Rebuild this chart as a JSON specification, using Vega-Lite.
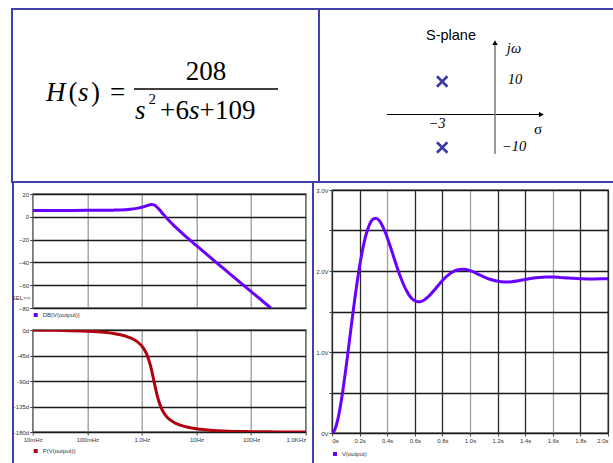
{
  "$schema": "https://vega.github.io/schema/vega-lite/v6.json",
  "padding": {"left": 10, "top": 8, "right": 0, "bottom": 0},
  "background": "white",
  "spacing": 0,
  "resolve": {"scale": {"color": "independent"}, "legend": {"color": "independent"}},
  "config": {
    "view": {"stroke": null},
    "font": "Liberation Sans",
    "axis": {"labelFont": "Liberation Sans", "labelFontSize": 6, "labelColor": "#333", "tickColor": "#444", "tickSize": 3, "domain": false, "labelPadding": 1, "titleFont": "Liberation Sans"},
    "legend": {"orient": "bottom", "labelFontSize": 6, "labelColor": "#333", "labelFont": "Liberation Sans", "symbolType": "square", "symbolSize": 4, "symbolStrokeWidth": 2, "offset": 4, "padding": 0}
  },
  "vconcat": [
    {
      "hconcat": [
        {
          "width": 307,
          "height": 173,
          "view": {"stroke": "#4040aa", "strokeWidth": 2},
          "encoding": {
            "x": {"field": "col", "type": "nominal", "scale": {"type": "point", "domain": ["lhs", "rhs"], "padding": 0.79, "align": 0.399}, "axis": null},
            "y": {"field": "row", "type": "nominal", "scale": {"type": "point", "domain": ["num", "bar", "den"], "padding": 1, "align": 0.425}, "axis": null}
          },
          "layer": [
            {"data": {"values": [{"col": "lhs", "row": "bar", "t": "H"}]}, "mark": {"type": "text", "font": "Liberation Serif", "fontSize": 27, "fontStyle": "italic", "align": "left", "baseline": "alphabetic", "dx": -41, "dy": 12}, "encoding": {"text": {"field": "t"}}},
            {"data": {"values": [{"col": "lhs", "row": "bar", "t": "("}]}, "mark": {"type": "text", "font": "Liberation Serif", "fontSize": 27, "align": "left", "baseline": "alphabetic", "dx": -18.5, "dy": 12}, "encoding": {"text": {"field": "t"}}},
            {"data": {"values": [{"col": "lhs", "row": "bar", "t": "s"}]}, "mark": {"type": "text", "font": "Liberation Serif", "fontSize": 27, "fontStyle": "italic", "align": "left", "baseline": "alphabetic", "dx": -9, "dy": 12}, "encoding": {"text": {"field": "t"}}},
            {"data": {"values": [{"col": "lhs", "row": "bar", "t": ")"}]}, "mark": {"type": "text", "font": "Liberation Serif", "fontSize": 27, "align": "left", "baseline": "alphabetic", "dx": 4, "dy": 12}, "encoding": {"text": {"field": "t"}}},
            {"data": {"values": [{"col": "lhs", "row": "bar", "t": "="}]}, "mark": {"type": "text", "font": "Liberation Serif", "fontSize": 27, "align": "left", "baseline": "alphabetic", "dx": 23, "dy": 12}, "encoding": {"text": {"field": "t"}}},
            {"data": {"values": [{"col": "rhs", "row": "num", "t": "208"}]}, "mark": {"type": "text", "font": "Liberation Serif", "fontSize": 27, "align": "center", "baseline": "alphabetic", "dy": 34.25}, "encoding": {"text": {"field": "t"}}},
            {"data": {"values": [{"col": "rhs", "row": "bar"}]}, "mark": {"type": "tick", "orient": "horizontal", "size": 144, "thickness": 1.3, "color": "black", "opacity": 1}},
            {"data": {"values": [{"col": "rhs", "row": "den", "t": "s"}]}, "mark": {"type": "text", "font": "Liberation Serif", "fontSize": 27, "fontStyle": "italic", "align": "left", "baseline": "alphabetic", "dx": -71, "dy": -13.25}, "encoding": {"text": {"field": "t"}}},
            {"data": {"values": [{"col": "rhs", "row": "den", "t": "2"}]}, "mark": {"type": "text", "font": "Liberation Serif", "fontSize": 15, "align": "left", "baseline": "alphabetic", "dx": -57.5, "dy": -28.75}, "encoding": {"text": {"field": "t"}}},
            {"data": {"values": [{"col": "rhs", "row": "den", "t": "+"}]}, "mark": {"type": "text", "font": "Liberation Serif", "fontSize": 27, "align": "left", "baseline": "alphabetic", "dx": -46, "dy": -13.25}, "encoding": {"text": {"field": "t"}}},
            {"data": {"values": [{"col": "rhs", "row": "den", "t": "6"}]}, "mark": {"type": "text", "font": "Liberation Serif", "fontSize": 27, "align": "left", "baseline": "alphabetic", "dx": -30.5, "dy": -13.25}, "encoding": {"text": {"field": "t"}}},
            {"data": {"values": [{"col": "rhs", "row": "den", "t": "s"}]}, "mark": {"type": "text", "font": "Liberation Serif", "fontSize": 27, "fontStyle": "italic", "align": "left", "baseline": "alphabetic", "dx": -17, "dy": -13.25}, "encoding": {"text": {"field": "t"}}},
            {"data": {"values": [{"col": "rhs", "row": "den", "t": "+"}]}, "mark": {"type": "text", "font": "Liberation Serif", "fontSize": 27, "align": "left", "baseline": "alphabetic", "dx": -6.5, "dy": -13.25}, "encoding": {"text": {"field": "t"}}},
            {"data": {"values": [{"col": "rhs", "row": "den", "t": "109"}]}, "mark": {"type": "text", "font": "Liberation Serif", "fontSize": 27, "align": "left", "baseline": "alphabetic", "dx": 9, "dy": -13.25}, "encoding": {"text": {"field": "t"}}}
          ]
        },
        {
          "width": 297,
          "height": 173,
          "view": {"stroke": "#4040aa", "strokeWidth": 2},
          "encoding": {
            "x": {"field": "s", "type": "quantitative", "scale": {"domain": [-10, 6.875], "nice": false, "zero": false}, "axis": null},
            "y": {"field": "w", "type": "quantitative", "scale": {"domain": [-20.45, 31.97], "nice": false, "zero": false}, "axis": null}
          },
          "layer": [
            {"data": {"values": [{"s": -6.14, "s2": 2.6, "w": 0}]}, "mark": {"type": "rule", "color": "black", "strokeWidth": 1.2}, "encoding": {"x2": {"field": "s2"}}},
            {"data": {"values": [{"s": 0, "w": -11.97, "w2": 21.5}]}, "mark": {"type": "rule", "color": "#808080", "strokeWidth": 1.6}, "encoding": {"y2": {"field": "w2"}}},
            {"data": {"values": [{"s": 2.63, "w": 0, "dir": "right"}, {"s": 0, "w": 21.76, "dir": "up"}]}, "mark": {"type": "point", "filled": true, "size": 30, "color": "black", "opacity": 1}, "encoding": {"shape": {"field": "dir", "type": "nominal", "scale": {"domain": ["right", "up"], "range": ["triangle-right", "triangle-up"]}, "legend": null}}},
            {"data": {"values": [{"s": -3, "w": 10}, {"s": -3, "w": -10}]}, "mark": {"type": "point", "shape": "M-1,-1L1,1M-1,1L1,-1", "filled": false, "size": 110, "strokeWidth": 2.6, "color": "#3b3ba8", "opacity": 1}},
            {"data": {"values": [{"s": -2.5, "w": 23.94, "t": "S-plane"}]}, "mark": {"type": "text", "font": "Liberation Sans", "fontSize": 14.5, "align": "center", "baseline": "middle", "color": "black"}, "encoding": {"text": {"field": "t"}}},
            {"data": {"values": [{"s": 1.08, "w": 19.7, "t": "jω"}, {"s": 1.14, "w": 10.6, "t": "10"}, {"s": -3.3, "w": -2.88, "t": "−3"}, {"s": 1.08, "w": -9.85, "t": "−10"}]}, "mark": {"type": "text", "font": "Liberation Serif", "fontSize": 14.5, "fontStyle": "italic", "align": "center", "baseline": "middle", "color": "black"}, "encoding": {"text": {"field": "t"}}},
            {"data": {"values": [{"s": 2.44, "w": -4.24, "t": "σ"}]}, "mark": {"type": "text", "font": "Liberation Serif", "fontSize": 15, "align": "center", "baseline": "middle", "color": "black"}, "encoding": {"text": {"field": "t"}}}
          ]
        }
      ],
      "spacing": 0,
      "bounds": "flush"
    },
    {
      "hconcat": [
        {
          "hconcat": [
            {"width": 2, "height": 280, "view": {"fill": "#4040aa"}, "data": {"values": [{"k": 0}]}, "mark": {"type": "point", "size": 0, "opacity": 0}},
            {
              "vconcat": [
                {"width": 1, "height": 11, "data": {"values": [{"k": 0}]}, "mark": {"type": "point", "size": 0, "opacity": 0}},
                {
                  "width": 273,
                  "height": 114,
                  "view": {"stroke": "#222222", "strokeWidth": 1.3},
                  "data": {"values": [
                    {"f": 0.01, "db": 5.61}, {"f": 0.03, "db": 5.61}, {"f": 0.1, "db": 5.64}, {"f": 0.2, "db": 5.72}, {"f": 0.3, "db": 5.85},
                    {"f": 0.5, "db": 6.28}, {"f": 0.7, "db": 6.95}, {"f": 0.9, "db": 7.86}, {"f": 1.0, "db": 8.40}, {"f": 1.1, "db": 8.98},
                    {"f": 1.2, "db": 9.58}, {"f": 1.3, "db": 10.14}, {"f": 1.4, "db": 10.58}, {"f": 1.5, "db": 10.79}, {"f": 1.6, "db": 10.68},
                    {"f": 1.7, "db": 10.20}, {"f": 1.8, "db": 9.40}, {"f": 2.0, "db": 7.29}, {"f": 2.2, "db": 5.02}, {"f": 2.5, "db": 1.91},
                    {"f": 3, "db": -2.30}, {"f": 4, "db": -8.35}, {"f": 5, "db": -12.71}, {"f": 7, "db": -18.96}, {"f": 10, "db": -25.37},
                    {"f": 20, "db": -37.56}, {"f": 30, "db": -44.63}, {"f": 50, "db": -53.52}, {"f": 100, "db": -65.57}, {"f": 200, "db": -77.61},
                    {"f": 230, "db": -80.0}
                  ]},
                  "mark": {"type": "line", "strokeWidth": 3, "interpolate": "monotone", "clip": true},
                  "encoding": {
                    "x": {"field": "f", "type": "quantitative", "scale": {"type": "log", "domain": [0.01, 1000], "nice": false}, "axis": {"values": [0.01, 0.1, 1, 10, 100, 1000], "labels": false, "ticks": false, "title": null, "gridColor": "#9a9a9a", "gridWidth": 1.3}},
                    "y": {"field": "db", "type": "quantitative", "scale": {"domain": [-80, 20], "nice": false, "zero": false}, "axis": {"values": [20, 0, -20, -40, -60, -80], "gridColor": "#1a1a1a", "gridWidth": 1.4, "title": "SEL>>", "titleAngle": 0, "titleAlign": "right", "titleBaseline": "middle", "titleX": -3, "titleY": 103, "titleFontSize": 6, "titleFontWeight": "normal", "titleColor": "#333"}},
                    "color": {"datum": "DB(V(output))", "scale": {"range": ["#6a00ff"]}, "legend": {"title": null}}
                  }
                },
                {"width": 1, "height": 21.6, "data": {"values": [{"k": 0}]}, "mark": {"type": "point", "size": 0, "opacity": 0}},
                {
                  "width": 273,
                  "height": 102,
                  "view": {"stroke": "#222222", "strokeWidth": 1.3},
                  "data": {"values": [
                    {"f": 0.01, "p": -0.20}, {"f": 0.03, "p": -0.60}, {"f": 0.1, "p": -1.99}, {"f": 0.2, "p": -4.01}, {"f": 0.3, "p": -6.12},
                    {"f": 0.5, "p": -10.77}, {"f": 0.7, "p": -16.40}, {"f": 0.9, "p": -23.78}, {"f": 1.0, "p": -28.47}, {"f": 1.1, "p": -34.11},
                    {"f": 1.2, "p": -40.94}, {"f": 1.3, "p": -49.21}, {"f": 1.4, "p": -59.08}, {"f": 1.5, "p": -70.37}, {"f": 1.6, "p": -82.50},
                    {"f": 1.7, "p": -94.54}, {"f": 1.8, "p": -105.57}, {"f": 2.0, "p": -122.97}, {"f": 2.2, "p": -134.70}, {"f": 2.5, "p": -145.62},
                    {"f": 3, "p": -155.33}, {"f": 4, "p": -163.91}, {"f": 5, "p": -167.88}, {"f": 7, "p": -171.77}, {"f": 10, "p": -174.39},
                    {"f": 20, "p": -177.25}, {"f": 30, "p": -178.17}, {"f": 50, "p": -178.90}, {"f": 100, "p": -179.45}, {"f": 200, "p": -179.73},
                    {"f": 500, "p": -179.89}, {"f": 1000, "p": -179.95}
                  ]},
                  "mark": {"type": "line", "strokeWidth": 3, "interpolate": "monotone", "clip": true},
                  "encoding": {
                    "x": {"field": "f", "type": "quantitative", "scale": {"type": "log", "domain": [0.01, 1000], "nice": false}, "axis": {"values": [0.01, 0.1, 1, 10, 100, 1000], "title": null, "gridColor": "#9a9a9a", "gridWidth": 1.3, "labelExpr": "datum.value < 0.05 ? '10mHz' : datum.value < 0.5 ? '100mHz' : datum.value < 5 ? '1.0Hz' : datum.value < 50 ? '10Hz' : datum.value < 500 ? '100Hz' : '1.0KHz'", "labelAlign": {"condition": {"test": "datum.value > 500", "value": "right"}, "value": "center"}}},
                    "y": {"field": "p", "type": "quantitative", "scale": {"domain": [-180, 0], "nice": false, "zero": false}, "axis": {"values": [0, -45, -90, -135, -180], "gridColor": "#1a1a1a", "gridWidth": 1.4, "title": null, "labelExpr": "datum.value + 'd'"}},
                    "color": {"datum": "P(V(output))", "scale": {"range": ["#b00010"]}, "legend": {"title": null, "offset": 6}}
                  }
                }
              ],
              "spacing": 0,
              "bounds": "flush",
              "resolve": {"scale": {"color": "independent"}, "legend": {"color": "independent"}}
            }
          ],
          "spacing": -3.3,
          "resolve": {"scale": {"color": "independent"}, "legend": {"color": "independent"}}
        },
        {"width": 4.8, "height": 1, "view": {"fill": "transparent"}, "data": {"values": [{"k": 0}]}, "mark": {"type": "point", "size": 0, "opacity": 0}},
        {
          "hconcat": [
            {"width": 2, "height": 280, "view": {"fill": "#4040aa"}, "data": {"values": [{"k": 0}]}, "mark": {"type": "point", "size": 0, "opacity": 0}},
            {
              "vconcat": [
                {"width": 1, "height": 7, "data": {"values": [{"k": 0}]}, "mark": {"type": "point", "size": 0, "opacity": 0}},
                {
                  "width": 276,
                  "height": 243,
                  "view": {"stroke": "#333333", "strokeWidth": 1.3},
                  "data": {"values": [
                    {"t": 0, "v": 0}, {"t": 0.02, "v": 0.040}, {"t": 0.04, "v": 0.152}, {"t": 0.06, "v": 0.323}, {"t": 0.08, "v": 0.539},
                    {"t": 0.10, "v": 0.788}, {"t": 0.12, "v": 1.054}, {"t": 0.14, "v": 1.325}, {"t": 0.16, "v": 1.589}, {"t": 0.18, "v": 1.836},
                    {"t": 0.20, "v": 2.058}, {"t": 0.22, "v": 2.250}, {"t": 0.24, "v": 2.405}, {"t": 0.26, "v": 2.523}, {"t": 0.28, "v": 2.602},
                    {"t": 0.30, "v": 2.644}, {"t": 0.32, "v": 2.651}, {"t": 0.34, "v": 2.626}, {"t": 0.36, "v": 2.575}, {"t": 0.38, "v": 2.503},
                    {"t": 0.40, "v": 2.414}, {"t": 0.42, "v": 2.315}, {"t": 0.44, "v": 2.211}, {"t": 0.46, "v": 2.105}, {"t": 0.48, "v": 2.004},
                    {"t": 0.50, "v": 1.910}, {"t": 0.52, "v": 1.827}, {"t": 0.54, "v": 1.756}, {"t": 0.56, "v": 1.700}, {"t": 0.58, "v": 1.658},
                    {"t": 0.60, "v": 1.632}, {"t": 0.62, "v": 1.620}, {"t": 0.64, "v": 1.621}, {"t": 0.66, "v": 1.633}, {"t": 0.70, "v": 1.686},
                    {"t": 0.75, "v": 1.782}, {"t": 0.80, "v": 1.882}, {"t": 0.85, "v": 1.962}, {"t": 0.90, "v": 2.009}, {"t": 0.95, "v": 2.021},
                    {"t": 1.00, "v": 2.004}, {"t": 1.05, "v": 1.969}, {"t": 1.10, "v": 1.929}, {"t": 1.15, "v": 1.895}, {"t": 1.20, "v": 1.873},
                    {"t": 1.25, "v": 1.864}, {"t": 1.30, "v": 1.868}, {"t": 1.35, "v": 1.880}, {"t": 1.40, "v": 1.896}, {"t": 1.45, "v": 1.910},
                    {"t": 1.50, "v": 1.920}, {"t": 1.55, "v": 1.925}, {"t": 1.60, "v": 1.925}, {"t": 1.65, "v": 1.921}, {"t": 1.70, "v": 1.915},
                    {"t": 1.75, "v": 1.909}, {"t": 1.80, "v": 1.905}, {"t": 1.85, "v": 1.902}, {"t": 1.90, "v": 1.902}, {"t": 1.95, "v": 1.903},
                    {"t": 2.00, "v": 1.905}
                  ]},
                  "mark": {"type": "line", "strokeWidth": 3, "interpolate": "monotone", "clip": true},
                  "encoding": {
                    "x": {"field": "t", "type": "quantitative", "scale": {"domain": [0, 2], "nice": false}, "axis": {"values": [0, 0.2, 0.4, 0.6, 0.8, 1.0, 1.2, 1.4, 1.6, 1.8, 2.0], "title": null, "labelFlush": true, "gridWidth": 1.3, "gridColor": {"condition": {"test": "abs(datum.value - 0.4) < 0.01 || abs(datum.value - 1.0) < 0.01 || abs(datum.value - 1.6) < 0.01", "value": "#a0a0a0"}, "value": "#2a2a2a"}, "labelExpr": "datum.value == 0 ? '0s' : format(datum.value, '.1f') + 's'"}},
                    "y": {"field": "v", "type": "quantitative", "scale": {"domain": [0, 3], "nice": false, "zero": false}, "axis": {"values": [0, 0.5, 1, 1.5, 2, 2.5, 3], "gridColor": "#1a1a1a", "gridWidth": 1.4, "title": null, "labelExpr": "datum.value % 1 == 0 ? (datum.value == 0 ? '0V' : format(datum.value, '.1f') + 'V') : ''"}},
                    "color": {"datum": "V(output)", "scale": {"range": ["#6a00ff"]}, "legend": {"title": null, "offset": 8}}
                  }
                }
              ],
              "spacing": 0,
              "bounds": "flush",
              "resolve": {"scale": {"color": "independent"}, "legend": {"color": "independent"}}
            }
          ],
          "spacing": 1,
          "resolve": {"scale": {"color": "independent"}, "legend": {"color": "independent"}}
        }
      ],
      "spacing": 0,
      "resolve": {"scale": {"color": "independent"}, "legend": {"color": "independent"}}
    }
  ]
}
